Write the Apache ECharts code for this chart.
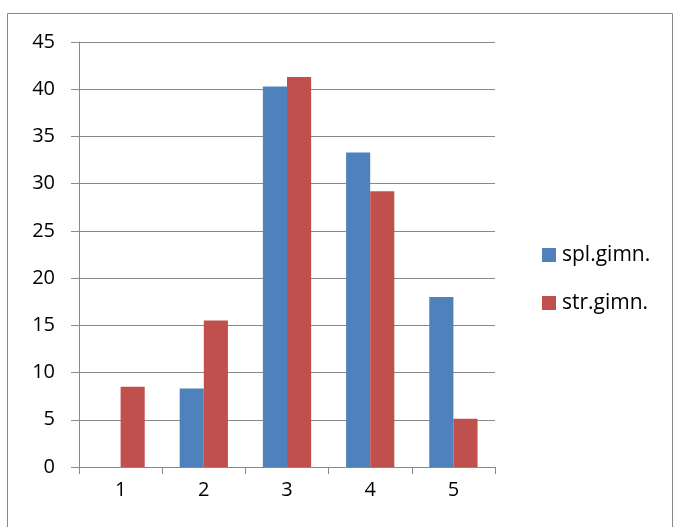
<!DOCTYPE html>
<html>
<head>
<meta charset="utf-8">
<script src="https://cdn.jsdelivr.net/npm/echarts@6/dist/echarts.min.js"></script>
<style>html,body{margin:0;padding:0;background:#fff}#c{width:675px;height:527px}</style>
</head>
<body>
<div id="c"></div>
<script>
const categories = ['1', '2', '3', '4', '5'];
const splGimn = [0, 8.3, 40.3, 33.3, 18.0];
const strGimn = [8.5, 15.5, 41.3, 29.2, 5.1];
const seriesNames = ['spl.gimn.', 'str.gimn.'];

const chart = echarts.init(document.getElementById('c'));
const font = '"Open Sans", Lato, sans-serif';
chart.setOption({
  animation: false,
  graphic: [{
    type: 'rect', shape: {x: 7.5, y: 13.5, width: 665, height: 530},
    style: {fill: 'none', stroke: '#888', lineWidth: 1}
  }],
  grid: {left: 79, right: 180, top: 42, bottom: 60, containLabel: false},
  legend: {
    orient: 'vertical', left: 537, top: 239, itemWidth: 14, itemHeight: 14, itemGap: 26,
    icon: 'rect',
    textStyle: {fontFamily: font, fontSize: 21, color: '#000', padding: [0, 0, 0, 1], lineHeight: 22},
    data: seriesNames
  },
  xAxis: {
    type: 'category', data: categories,
    axisLine: {lineStyle: {color: '#888', width: 1}},
    axisTick: {show: true, length: 7, lineStyle: {color: '#888'}},
    axisLabel: {color: '#000', fontFamily: font, fontSize: 20, margin: 13}
  },
  yAxis: {
    type: 'value', min: 0, max: 45, interval: 5,
    axisLine: {show: true, lineStyle: {color: '#888', width: 1}},
    axisTick: {show: true, length: 8, lineStyle: {color: '#888'}},
    splitLine: {lineStyle: {color: '#888', width: 1}},
    axisLabel: {color: '#000', fontFamily: font, fontSize: 20, margin: 24}
  },
  series: [
    {name: seriesNames[0], type: 'bar', data: splGimn, barGap: '0%', barCategoryGap: '42%',
     itemStyle: {color: '#4F81BD'}},
    {name: seriesNames[1], type: 'bar', data: strGimn, barGap: '0%', barCategoryGap: '42%',
     itemStyle: {color: '#C0504D'}}
  ]
});
</script>
</body>
</html>
